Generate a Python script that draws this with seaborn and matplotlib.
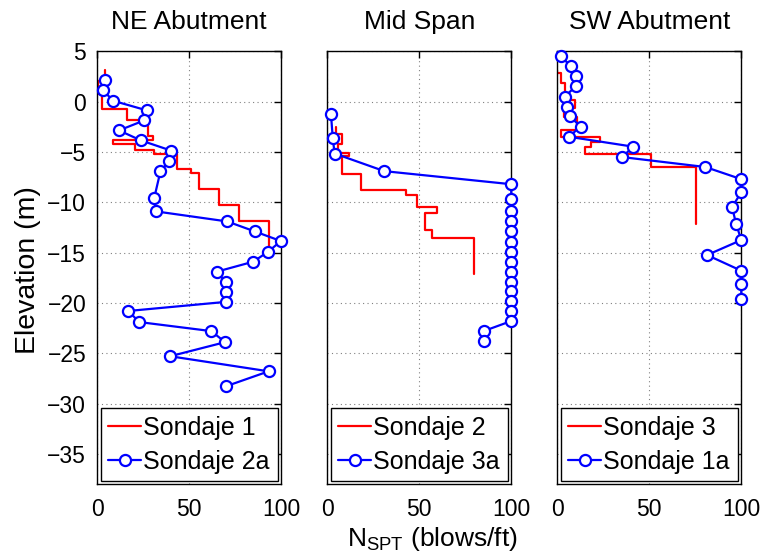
import numpy as np
import pandas as pd
import matplotlib
matplotlib.use("Agg")
import matplotlib.pyplot as plt
import seaborn as sns

sns.set_theme(style="white")
plt.rcParams["font.family"] = ["Liberation Sans", "DejaVu Sans"]
plt.rcParams["mathtext.default"] = "regular"
plt.rcParams["text.color"] = "black"
plt.rcParams["axes.labelcolor"] = "black"
plt.rcParams["xtick.color"] = "black"
plt.rcParams["ytick.color"] = "black"

titles = ["NE Abutment", "Mid Span", "SW Abutment"]
red_labels = ["Sondaje 1", "Sondaje 2", "Sondaje 3"]
blue_labels = ["Sondaje 2a", "Sondaje 3a", "Sondaje 1a"]

# Sondajes 1, 2, 3: layer boundaries (elevation, m) and N per layer
s1_bounds = [3.15, 2.1, 0.8, -0.7, -1.8, -3.4, -3.85, -4.2, -4.8, -5.2, -6.7,
             -7.1, -8.7, -10.3, -11.85, -15.4]
s1_n = [4.2, 0.5, 2.5, 16.3, 27.8, 30.3, 8.3, 20.3, 30.7, 43.4, 50.8, 55.4,
        66.2, 77.1, 93.1]

s2_bounds = [-2.48, -3.2, -4.2, -5.07, -5.4, -7.2, -8.8, -9.3, -10.5, -11.1,
             -12.8, -13.5, -17.1]
s2_n = [4.7, 8.2, 6.0, 11.8, 7.8, 18.2, 42.8, 48.7, 59.5, 53.2, 56.8, 80.0]

s3_bounds = [3.15, 2.9, 1.83, 0.17, -0.66, -1.49, -2.81, -3.54, -3.97, -4.47,
             -5.2, -6.45, -12.15]
s3_n = [0.0, 2.2, 4.0, 9.4, 3.5, 10.7, 1.8, 23.4, 18.5, 14.9, 50.8, 75.2]

# Sondajes 2a, 3a, 1a: point measurements
s2a_elev = [2.16, 1.13, 0.1, -0.86, -1.85, -2.85, -3.84, -4.87, -5.86, -6.92,
            -9.6, -10.9, -11.9, -12.9, -13.85, -14.9, -15.9, -16.9, -17.9,
            -18.9, -19.9, -20.8, -21.9, -22.8, -23.9, -25.3, -26.8, -28.3]
s2a_n = [4.4, 3.3, 8.5, 26.9, 25.6, 11.8, 23.6, 40.3, 39.2, 34.3, 30.9, 31.8,
         70.6, 85.7, 99.8, 92.9, 84.8, 64.8, 69.7, 69.7, 69.7, 16.9, 22.7,
         61.9, 69.5, 39.6, 93.1, 69.7]

s3a_elev = [-1.2, -3.65, -5.15, -6.9, -8.2, -9.65, -10.85, -11.85, -12.9,
            -13.9, -14.9, -15.9, -16.9, -17.9, -18.85, -19.85, -20.85, -21.8,
            -22.8, -23.8]
s3a_n = [2, 3, 4, 31, 100, 100, 100, 100, 100, 100, 100, 100, 100, 100, 100,
         100, 100, 100, 85, 85]

s1a_elev = [4.54, 3.55, 2.55, 1.56, 0.5, -0.5, -1.45, -2.48, -3.48, -4.47,
            -5.5, -6.49, -7.7, -9.0, -10.47, -12.16, -13.75, -15.24, -16.8,
            -18.15, -19.64]
s1a_n = [1.8, 7.3, 10.3, 10.2, 4.0, 5.3, 6.9, 12.7, 6.2, 41.3, 35.2, 80.5,
         100, 100, 95, 97.2, 100, 81.4, 100, 100, 100]

x_ticks = [0, 50, 100]
y_ticks = list(range(-35, 6, 5))

step_sets = [(s1_bounds, s1_n), (s2_bounds, s2_n), (s3_bounds, s3_n)]
point_sets = [(s2a_elev, s2a_n), (s3a_elev, s3a_n), (s1a_elev, s1a_n)]


def step_frame(bounds, n):
    """Turn layer boundaries and per-layer N into a vertical step profile."""
    b = np.asarray(bounds)
    n = np.asarray(n)
    elev = np.column_stack([b[:-1], b[1:]]).ravel()
    nn = np.repeat(n, 2)
    return pd.DataFrame({"N": nn, "elev": elev})


fig = plt.figure(figsize=(7.65, 5.56), dpi=100)
lefts = [0.1272, 0.4278, 0.7285]
axes = [fig.add_axes([l, 0.1295, 0.2405, 0.778]) for l in lefts]

for i, ax in enumerate(axes):
    sdf = step_frame(*step_sets[i])
    sns.lineplot(data=sdf, x="N", y="elev", sort=False, estimator=None,
                 color="#ff0000", lw=1.6, ax=ax, label=red_labels[i])
    pe, pn = point_sets[i]
    pdf = pd.DataFrame({"N": pn, "elev": pe})
    sns.lineplot(data=pdf, x="N", y="elev", sort=False, estimator=None,
                 color="#0000ff", lw=1.6, marker="o", markersize=8,
                 markerfacecolor="white", markeredgecolor="#0000ff",
                 markeredgewidth=1.6, ax=ax, label=blue_labels[i],
                 clip_on=False, zorder=5)

    ax.set_xlim(0, 100)
    ax.set_ylim(-38, 5)
    ax.set_xticks(x_ticks)
    ax.set_yticks(y_ticks)
    ax.set_xlabel("")
    ax.set_ylabel("")
    ax.grid(True, color="0.5", linestyle=(0, (1, 3)), linewidth=0.8)
    ax.tick_params(direction="in", top=True, right=True, length=5,
                   width=1, labelsize=16.5, colors="black")
    ax.tick_params(axis="y", pad=8)
    ax.tick_params(axis="x", pad=10)
    if i > 0:
        ax.tick_params(labelleft=False)
    for sp in ax.spines.values():
        sp.set_color("black")
        sp.set_linewidth(1.0)
    ax.set_title(titles[i], fontsize=19, pad=16)

    leg = ax.legend(loc="lower left", bbox_to_anchor=(0.02, 0.006, 0.96, 0.2),
                    mode="expand", fancybox=False, edgecolor="black",
                    framealpha=1, fontsize=18, handlelength=1.3,
                    handletextpad=0.08, borderpad=0.3, labelspacing=0.4,
                    borderaxespad=0)
    leg.get_frame().set_linewidth(1.0)

fig.text(0.037, 0.514, "Elevation (m)", rotation=90, ha="center",
         va="center", fontsize=20.5)
fig.text(0.565, 0.03, r"N$_{SPT}$ (blows/ft)", ha="center", va="center",
         fontsize=19)

fig.savefig("out.png", dpi=100)
